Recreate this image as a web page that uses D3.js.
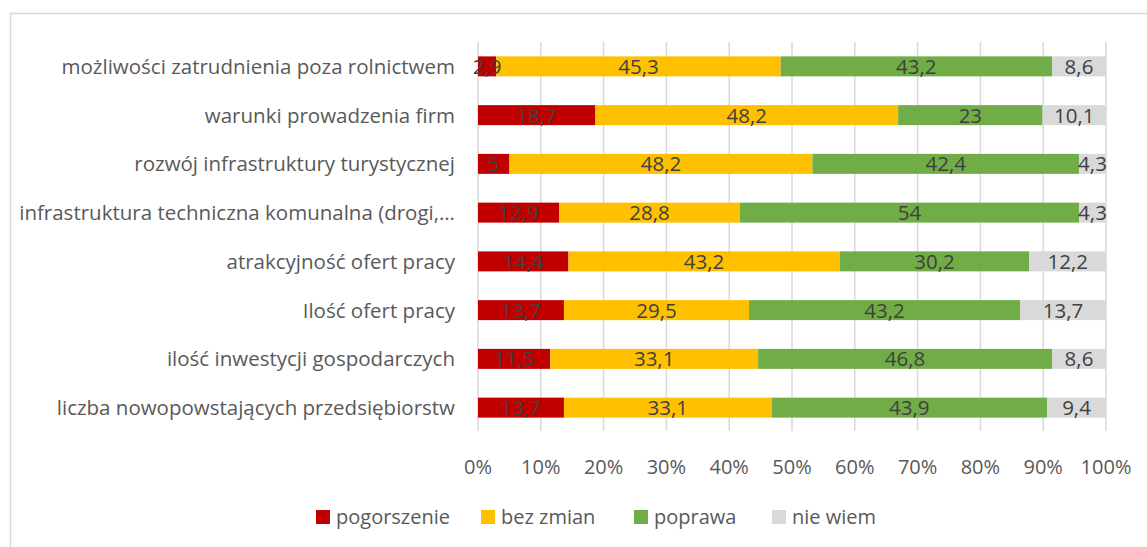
<!DOCTYPE html>
<html>
<head>
<meta charset="utf-8">
<script src="https://cdn.jsdelivr.net/npm/d3@7"></script>
<style>
  body { margin: 0; background: #fff; }
  text { font-family: "Open Sans", Lato, sans-serif; }
</style>
</head>
<body>
<script>
// Width and height
var w = 1147,
    h = 547;

var categories = [
  'możliwości zatrudnienia poza rolnictwem',
  'warunki prowadzenia firm',
  'rozwój infrastruktury turystycznej',
  'infrastruktura techniczna komunalna (drogi,…',
  'atrakcyjność ofert pracy',
  'Ilość ofert pracy',
  'ilość inwestycji gospodarczych',
  'liczba nowopowstających przedsiębiorstw'
];

var seriesNames = ['pogorszenie', 'bez zmian', 'poprawa', 'nie wiem'];
var colors = ['#C00000', '#FFC000', '#70AD47', '#D9D9D9'];

var pogorszenie = [2.9, 18.7, 5, 12.9, 14.4, 13.7, 11.5, 13.7];
var bezZmian = [45.3, 48.2, 48.2, 28.8, 43.2, 29.5, 33.1, 33.1];
var poprawa = [43.2, 23, 42.4, 54, 30.2, 43.2, 46.8, 43.9];
var nieWiem = [8.6, 10.1, 4.3, 4.3, 12.2, 13.7, 8.6, 9.4];

var tickValues = [0, 0.1, 0.2, 0.3, 0.4, 0.5, 0.6, 0.7, 0.8, 0.9, 1];

// build rows for the stack
var seriesArrays = [pogorszenie, bezZmian, poprawa, nieWiem];
var rows = categories.map(function(c, i) {
  var r = { cat: c };
  seriesNames.forEach(function(s, j) { r[s] = seriesArrays[j][i]; });
  return r;
});

var stacked = d3.stack()
  .keys(seriesNames)
  .offset(d3.stackOffsetExpand)(rows);

var xScale = d3.scaleLinear().domain([0, 1]).range([478, 1106]);
var yScale = d3.scaleBand().domain(categories).range([42, 432]).paddingInner(0.59).paddingOuter(0.295);

var fmt = function(v) { return String(v).replace('.', ','); };

var svg = d3.select('body').append('svg')
  .attr('width', w)
  .attr('height', h);

// chart frame
svg.append('rect')
  .attr('x', 10.5).attr('y', 13.5)
  .attr('width', w).attr('height', h)
  .attr('fill', 'none')
  .attr('stroke', '#d9d9d9')
  .attr('stroke-width', 1.5);

// gridlines
svg.selectAll('.grid')
  .data(tickValues)
  .enter().append('line')
  .attr('x1', function(d) { return xScale(d); })
  .attr('x2', function(d) { return xScale(d); })
  .attr('y1', 42)
  .attr('y2', 431)
  .attr('stroke', '#d9d9d9')
  .attr('stroke-width', 1.5);

// bars
svg.selectAll('.layer')
  .data(stacked)
  .enter().append('g')
  .attr('fill', function(d, i) { return colors[i]; })
  .selectAll('rect')
  .data(function(d) { return d; })
  .enter().append('rect')
  .attr('x', function(d) { return xScale(d[0]); })
  .attr('y', function(d) { return yScale(d.data.cat); })
  .attr('width', function(d) { return xScale(d[1]) - xScale(d[0]); })
  .attr('height', yScale.bandwidth());

// data labels (drawn after all bars so they sit on top)
svg.selectAll('.labels')
  .data(stacked)
  .enter().append('g')
  .each(function(s) {
    d3.select(this).selectAll('text')
      .data(s)
      .enter().append('text')
      .attr('x', function(d) { return (xScale(d[0]) + xScale(d[1])) / 2; })
      .attr('y', function(d) { return yScale(d.data.cat) + yScale.bandwidth() / 2; })
      .attr('dy', '0.36em')
      .attr('text-anchor', 'middle')
      .attr('fill', '#404040')
      .attr('font-size', 20.5)
      .text(function(d) { return fmt(d.data[s.key]); });
  });

// category labels
svg.selectAll('.cat')
  .data(categories)
  .enter().append('text')
  .attr('x', 455)
  .attr('y', function(d) { return yScale(d) + yScale.bandwidth() / 2; })
  .attr('dy', '0.36em')
  .attr('text-anchor', 'end')
  .attr('fill', '#595959')
  .attr('font-size', 20.5)
  .text(function(d) { return d; });

// x axis labels
svg.selectAll('.tick')
  .data(tickValues)
  .enter().append('text')
  .attr('x', function(d) { return xScale(d); })
  .attr('y', 467)
  .attr('dy', '0.36em')
  .attr('text-anchor', 'middle')
  .attr('fill', '#595959')
  .attr('font-size', 20)
  .text(d3.format('.0%'));

// legend
var legendX = [316, 481, 634, 772];
var legend = svg.selectAll('.legend')
  .data(seriesNames)
  .enter().append('g')
  .attr('transform', function(d, i) { return 'translate(' + legendX[i] + ',517)'; });

legend.append('rect')
  .attr('x', 0).attr('y', -7)
  .attr('width', 14).attr('height', 14)
  .attr('fill', function(d, i) { return colors[i]; });

legend.append('text')
  .attr('x', 20)
  .attr('dy', '0.36em')
  .attr('fill', '#595959')
  .attr('font-size', 20)
  .text(function(d) { return d; });
</script>
</body>
</html>
